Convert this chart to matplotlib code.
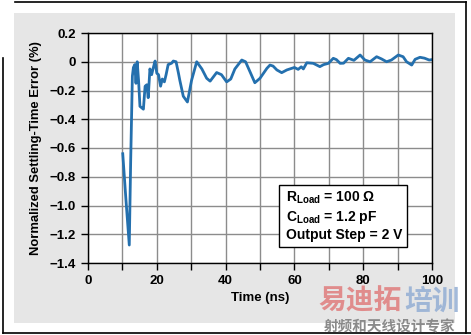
import matplotlib.pyplot as plt
from matplotlib.patches import Rectangle
from matplotlib.lines import Line2D

plt.rcParams['font.family'] = ['Liberation Sans', 'DejaVu Sans']
plt.rcParams['font.weight'] = 'bold'
plt.rcParams['mathtext.fontset'] = 'custom'
plt.rcParams['mathtext.rm'] = 'Liberation Sans:bold'
plt.rcParams['mathtext.bf'] = 'Liberation Sans:bold'

# settling error
time_ns = [10.1, 11.0, 12.0, 12.4, 12.9, 13.2, 13.6, 13.95, 14.3, 14.7, 15.1, 15.6, 16.1,
           16.6, 17.1, 17.5, 18.0, 18.5, 19.0, 19.5, 20.0, 20.5, 21.1, 21.6, 22.2, 22.7,
           23.3, 24.3, 24.8, 25.6, 26.3, 26.7, 27.7, 28.9, 30.1, 31.6, 33.1, 34.5, 35.5,
           37.4, 38.8, 40.3, 41.5, 42.7, 44.7, 45.8, 47.1, 48.5, 50.0, 52.0, 52.9, 53.8,
           54.9, 56.3, 57.8, 59.2, 60.0, 61.1, 62.0, 62.6, 63.6, 65.5, 67.4, 68.5, 69.9,
           71.3, 72.2, 73.3, 74.3, 75.7, 77.3, 79.1, 80.5, 82.0, 83.9, 85.3, 86.8, 88.2,
           90.2, 91.6, 92.6, 94.1, 95.1, 96.5, 97.8, 99.2, 100.0]
error_pct = [-0.64, -0.95, -1.275, -0.70, -0.10, -0.04, -0.02, -0.15, 0.0, -0.13, -0.31,
             -0.32, -0.33, -0.17, -0.16, -0.25, -0.05, -0.09, -0.04, 0.005, -0.08, -0.09,
             -0.17, -0.12, -0.14, -0.09, -0.02, -0.01, 0.005, 0.0, -0.08, -0.13, -0.24,
             -0.28, -0.13, 0.0, -0.05, -0.115, -0.135, -0.075, -0.09, -0.14, -0.12, -0.05,
             0.012, 0.0, -0.07, -0.146, -0.115, -0.046, -0.023, -0.03, -0.057, -0.076,
             -0.057, -0.046, -0.04, -0.053, -0.035, -0.05, -0.007, -0.011, -0.034, -0.02,
             -0.011, 0.024, 0.015, -0.011, -0.01, 0.024, 0.01, 0.047, 0.012, 0.0, 0.035,
             0.02, 0.0, 0.012, 0.047, 0.035, 0.0, -0.023, 0.017, 0.031, 0.025, 0.012, 0.015]

x_ticks = [0, 20, 40, 60, 80, 100]
y_ticks = [0.2, 0, -0.2, -0.4, -0.6, -0.8, -1.0, -1.2, -1.4]
y_labels = ['0.2', '0', '\u22120.2', '\u22120.4', '\u22120.6', '\u22120.8',
            '\u22121.0', '\u22121.2', '\u22121.4']

fig = plt.figure(figsize=(4.71, 3.35), dpi=100)
fig.patch.set_facecolor('white')

# grey panel and outer frame
fig.patches.append(Rectangle((14 / 471, 1 - 323 / 335), 441 / 471, 310 / 335,
                             transform=fig.transFigure, facecolor='#e6e6e6',
                             edgecolor='none', zorder=-10))
frame = dict(transform=fig.transFigure, color='black', lw=1.2)
fig.lines.append(Line2D([15 / 471, 466 / 471], [1 - 1.5 / 335, 1 - 1.5 / 335], **frame))
fig.lines.append(Line2D([466 / 471, 466 / 471], [1 - 1.5 / 335, 1 - 333 / 335], **frame))
fig.lines.append(Line2D([3 / 471, 471 / 471], [1 - 333 / 335, 1 - 333 / 335], **frame))
fig.lines.append(Line2D([3 / 471, 3 / 471], [1 - 58 / 335, 1 - 333 / 335], **frame))

ax = fig.add_axes([88 / 471, 1 - 263 / 335, 344 / 471, 230 / 335])
ax.set_facecolor('white')
ax.plot(time_ns, error_pct, color='#2470ae', lw=2.0, solid_joinstyle='round')

ax.set_xlim(0, 100)
ax.set_ylim(-1.4, 0.2)
ax.set_xticks(x_ticks)
ax.set_xticks(range(10, 100, 20), minor=True)
ax.set_yticks(y_ticks)
ax.set_yticklabels(y_labels)
ax.grid(True, which='both', color='#8c8c8c', lw=1.0)
ax.set_axisbelow(True)
ax.tick_params(which='both', direction='out', length=5, width=1, labelsize=9.5, pad=4)
for s in ax.spines.values():
    s.set_linewidth(1.0)

ax.set_xlabel('Time (ns)', fontsize=9.5, fontweight='bold', labelpad=3)
ax.set_ylabel('Normalized Settling-Time Error (%)', fontsize=9.4, fontweight='bold',
              labelpad=5)

ax.add_patch(Rectangle(((279 - 88) / 344, (263 - 247) / 230), 128 / 344, 62 / 230,
                       transform=ax.transAxes, facecolor='white', edgecolor='black',
                       lw=1.0, zorder=5))
ax.text((286 - 88) / 344, (263 - 216) / 230,
        'R$_{\\mathbf{Load}}$ = 100 \u03a9\nC$_{\\mathbf{Load}}$ = 1.2 pF\nOutput Step = 2 V',
        transform=ax.transAxes, fontsize=10, fontweight='bold', va='center',
        linespacing=1.2, zorder=6)

# watermark
cjk = ['Noto Sans CJK SC', 'DejaVu Sans']
fig.text(318 / 471, 1 - 302 / 335, '易迪拓', fontsize=20, color='#e07c7c', weight='bold',
         family=cjk, ha='left', va='center', alpha=0.85)
fig.text(404 / 471, 1 - 302 / 335, '培训', fontsize=20, color='#93aed4', weight='bold',
         family=cjk, ha='left', va='center', alpha=0.85)
fig.text(390 / 471, 1 - 326 / 335, '射频和天线设计专家', fontsize=10.5, color='#8a8a8a',
         family=cjk, ha='center', va='center')

fig.savefig('out.png', dpi=100)
